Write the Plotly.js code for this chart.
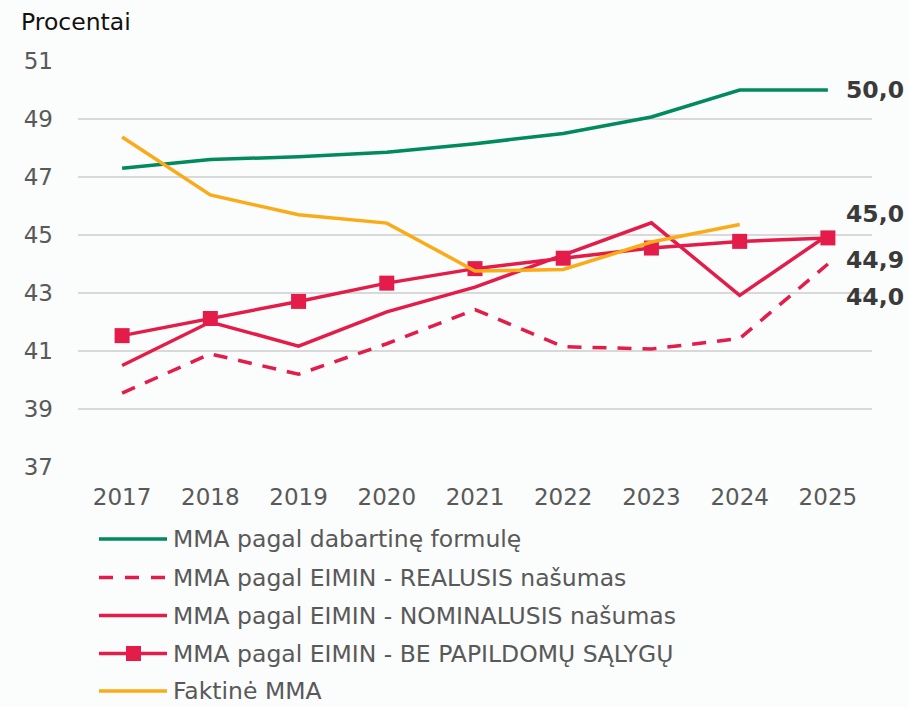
<!DOCTYPE html>
<html>
<head>
<meta charset="utf-8">
<script src="https://cdn.plot.ly/plotly-3.0.1.min.js"></script>
<style>html,body{margin:0;padding:0;background:#fbfcfc;}#chart{width:909px;height:707px;}</style>
</head>
<body>
<div id="chart"></div>
<script>
var years = ['2017','2018','2019','2020','2021','2022','2023','2024','2025'];
var dabartine = [47.3, 47.6, 47.7, 47.85, 48.15, 48.5, 49.07, 50.0, 50.0];
var realusis = [39.55, 40.9, 40.2, 41.25, 42.43, 41.15, 41.07, 41.43, 44.0];
var nominalusis = [40.5, 42.0, 41.17, 42.35, 43.2, 44.3, 45.42, 42.92, 45.0];
var bePapildomu = [41.53, 42.12, 42.71, 43.34, 43.84, 44.2, 44.55, 44.78, 44.9];
var faktine = [48.38, 46.38, 45.7, 45.41, 43.76, 43.81, 44.76, 45.36];
var seriesNames = ['MMA pagal dabartinę formulę','MMA pagal EIMIN - REALUSIS našumas','MMA pagal EIMIN - NOMINALUSIS našumas','MMA pagal EIMIN - BE PAPILDOMŲ SĄLYGŲ','Faktinė MMA'];
var endLabels = ['50,0','45,0','44,9','44,0'];

var GREEN='#008a5e', RED='#e31c4a', ORANGE='#fbab18', TXT='#595959';
var FONT='DejaVu Sans, Verdana, sans-serif';

var traces = [
  {x:years, y:dabartine, mode:'lines', line:{color:GREEN,width:3.5}, name:seriesNames[0]},
  {x:years, y:realusis, mode:'lines', line:{color:RED,width:3.5,dash:'14px,11px'}, name:seriesNames[1]},
  {x:years, y:nominalusis, mode:'lines', line:{color:RED,width:3.5}, name:seriesNames[2]},
  {x:years, y:bePapildomu, mode:'lines+markers', line:{color:RED,width:3.5}, marker:{symbol:'square',size:15,color:RED}, name:seriesNames[3]},
  {x:years.slice(0,faktine.length), y:faktine, mode:'lines', line:{color:ORANGE,width:3.5}, name:seriesNames[4]}
];

// plot area geometry (for legend placement in paper units)
var L=78, R=37, T=61, B=240, W=909, H=707;
var pw=W-L-R, ph=H-T-B;
function px(x){return (x-L)/pw;}
function py(y){return (H-B-y)/ph;}

var shapes=[], annotations=[];
var legendRows=[539,577.5,615.5,653.5,691];
var legendStyles=[
  {color:GREEN,dash:'solid'},
  {color:RED,dash:'dash'},
  {color:RED,dash:'solid'},
  {color:RED,dash:'solid',square:true},
  {color:ORANGE,dash:'solid'}
];
legendRows.forEach(function(yy,i){
  var st=legendStyles[i];
  shapes.push({type:'line',xref:'paper',yref:'paper',x0:px(99),x1:px(167),y0:py(yy),y1:py(yy),
    line:{color:st.color,width:3.5,dash:st.dash==='dash'?'14px,12px':'solid'}});
  if(st.square){
    shapes.push({type:'rect',xref:'paper',yref:'paper',x0:px(126),x1:px(141),y0:py(yy+7.5),y1:py(yy-7.5),
      fillcolor:RED,line:{width:0}});
  }
  annotations.push({xref:'paper',yref:'paper',x:px(172),y:py(yy),xanchor:'left',yanchor:'middle',showarrow:false,borderpad:0,
    text:seriesNames[i],font:{family:FONT,size:23.5,color:TXT}});
});

// end-of-line value labels
var lastIdx = years.length-1;
var endSpecs = [
  {y:dabartine[lastIdx], shift:0, t:endLabels[0]},
  {y:nominalusis[lastIdx], shift:21, t:endLabels[1]},
  {y:bePapildomu[lastIdx], shift:-22, t:endLabels[2]},
  {y:realusis[lastIdx], shift:-33, t:endLabels[3]}
];
endSpecs.forEach(function(s){
  annotations.push({x:lastIdx, y:s.y, xref:'x', yref:'y', xanchor:'left', yanchor:'middle', xshift:16, yshift:s.shift,
    showarrow:false, text:'<b>'+s.t+'</b>', font:{family:FONT,size:23.5,color:'#3a3a3a'}});
});

annotations.push({xref:'paper',yref:'paper',x:px(19),y:py(22),xanchor:'left',yanchor:'middle',showarrow:false,
  text:'Procentai',font:{family:FONT,size:23.5,color:'#111111'}});

var layout = {
  width:W, height:H,
  margin:{l:L,r:R,t:T,b:B,pad:0},
  paper_bgcolor:'#fbfcfc', plot_bgcolor:'#fbfcfc',
  showlegend:false,
  font:{family:FONT,size:23,color:TXT},
  xaxis:{type:'category', range:[-0.5,8.5], showgrid:false, zeroline:false, showline:false, ticks:'',
    ticklabelstandoff:14, tickfont:{family:FONT,size:23,color:TXT}},
  yaxis:{range:[37,51], dtick:2, tick0:37, showgrid:true, gridcolor:'#d9d9d9', gridwidth:2, zeroline:false, showline:false, ticks:'',
    ticklabelstandoff:24, tickfont:{family:FONT,size:23,color:TXT}},
  shapes:shapes,
  annotations:annotations
};

Plotly.newPlot('chart', traces, layout, {displayModeBar:false, staticPlot:true});
</script>
</body>
</html>
